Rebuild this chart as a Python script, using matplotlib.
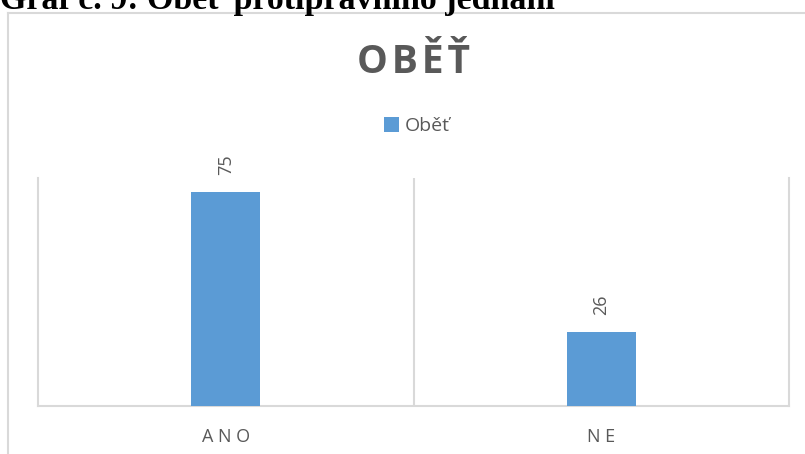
"""
bar chart: Oběť (ANO / NE)
"""

import matplotlib
matplotlib.use('Agg')
import matplotlib.pyplot as plt
from matplotlib.lines import Line2D

# data
categories = ['ANO', 'NE']
values = [75, 26]
series_name = 'Oběť'
chart_title = 'OBĚŤ'
caption = 'Graf č. 9: Oběť protiprávního jednání'

W, H = 805, 454
bar_color = '#5b9bd5'
text_gray = '#595959'
line_gray = '#d9d9d9'

plt.rcParams['font.family'] = ['Open Sans', 'DejaVu Sans']

fig = plt.figure(figsize=(W / 100, H / 100), dpi=100)

# caption above the chart, cut off at the top of the picture
fig.text(0.0, 1 - 9 / H, caption, family='Liberation Serif', weight='bold',
         fontsize=24.5, color='black', ha='left', va='baseline')

# chart frame (only top and left edges are visible)
fig.add_artist(Line2D([8 / W, 1.0], [1 - 13 / H, 1 - 13 / H],
                      transform=fig.transFigure, color=line_gray, lw=1.5))
fig.add_artist(Line2D([8 / W, 8 / W], [1 - 13 / H, 0.0],
                      transform=fig.transFigure, color=line_gray, lw=1.5))

# plot area
ax = fig.add_axes([38 / W, 1 - 406 / H, (789 - 38) / W, (406 - 178) / H])
x = range(len(categories))
bars = ax.bar(x, values, width=0.183, color=bar_color, label=series_name, zorder=3)
ax.set_xlim(-0.5, len(categories) - 0.5)
ax.set_ylim(0, 80)

# category separators
for b in [0.5]:
    ax.axvline(b, color=line_gray, lw=1.5, zorder=1)
for side in ['left', 'right', 'bottom']:
    ax.spines[side].set_color(line_gray)
    ax.spines[side].set_linewidth(1.5)
ax.spines['top'].set_visible(False)

ax.set_yticks([])
ax.set_xticks(list(x))
ax.set_xticklabels([' '.join(c) for c in categories], color=text_gray, fontsize=13)
ax.tick_params(axis='x', length=0, pad=16)

# value labels, rotated
for rect, v in zip(bars, values):
    ax.annotate(str(v), (rect.get_x() + rect.get_width() / 2, rect.get_height()),
                xytext=(0, 17), textcoords='offset pixels', rotation=90,
                ha='center', va='bottom', color=text_gray, fontsize=13)

# title and legend
fig.text(413 / W, 1 - 73 / H, '\u200a'.join(chart_title), weight='bold',
         fontsize=28, color=text_gray, ha='center', va='baseline')
fig.legend(loc='center', bbox_to_anchor=(417 / W, 1 - 126 / H), frameon=False,
           fontsize=14, labelcolor=text_gray, handlelength=0.8, handleheight=0.8,
           handletextpad=0.3)

fig.savefig('out.png', dpi=100)
